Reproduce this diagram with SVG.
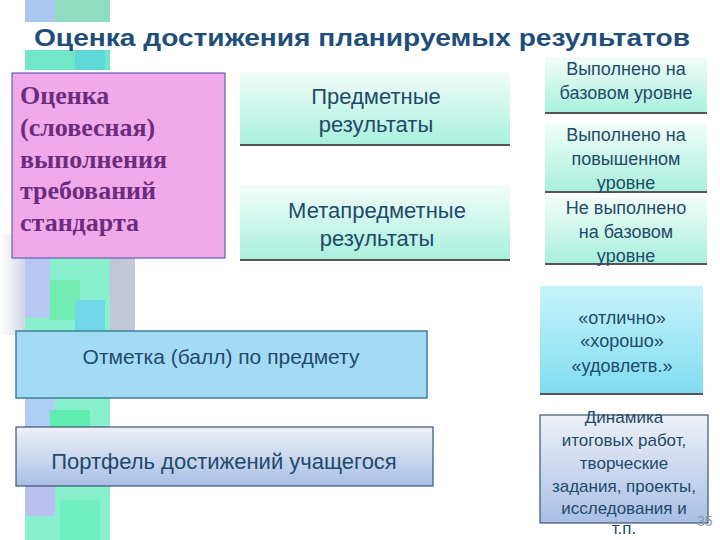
<svg xmlns="http://www.w3.org/2000/svg" width="720" height="540" viewBox="0 0 720 540">
<defs>
<linearGradient id="mint" x1="0" y1="0" x2="0" y2="1"><stop offset="0" stop-color="#f2fdf9"/><stop offset="1" stop-color="#a8f0dc"/></linearGradient>
<linearGradient id="cyan" x1="0" y1="0" x2="0" y2="1"><stop offset="0" stop-color="#c8f4fb"/><stop offset="1" stop-color="#7fdcf0"/></linearGradient>
<linearGradient id="grey" x1="0" y1="0" x2="0" y2="1"><stop offset="0" stop-color="#eef1f7"/><stop offset="1" stop-color="#a9bfe6"/></linearGradient>
<linearGradient id="band" x1="0" y1="0" x2="1" y2="0"><stop offset="0" stop-color="#ffffff"/><stop offset="0.3" stop-color="#b8bed4"/><stop offset="1" stop-color="#c4c8da"/></linearGradient>
<style>
.t{font-family:"Liberation Sans",Arial,sans-serif;fill:#1f4a6a;text-anchor:middle}
.s{font-family:"Liberation Serif","Times New Roman",serif;font-weight:bold;fill:#6b2c7e;font-size:26px}
.ln{stroke:#555;stroke-width:2}
</style>
</defs>
<rect width="720" height="540" fill="#fff"/>
<g id="background">
<rect x="0" y="235" width="135" height="100" fill="url(#band)"/>
<rect x="25" y="0" width="85" height="22" fill="#8fdcc0"/>
<rect x="25" y="0" width="30" height="22" fill="#a8c8f0"/>
<rect x="25" y="50" width="85" height="20" fill="#70e8c8"/>
<rect x="75" y="50" width="30" height="20" fill="#60d8d8"/>
<rect x="25" y="258" width="85" height="282" fill="#88f0cc"/>
<rect x="25" y="258" width="25" height="60" fill="#b8c8f4"/>
<rect x="50" y="280" width="30" height="40" fill="#70ecb0"/>
<rect x="75" y="300" width="30" height="30" fill="#70d8e8"/>
<rect x="25" y="398" width="30" height="30" fill="#b0cdf4"/>
<rect x="50" y="410" width="40" height="20" fill="#60ecb0"/>
<rect x="25" y="486" width="30" height="30" fill="#b8c0f0"/>
<rect x="60" y="500" width="40" height="40" fill="#70f0c0"/>
</g>
<text x="362" y="46" font-family="Liberation Sans,Arial,sans-serif" font-weight="bold" font-size="24" fill="#1f4e79" text-anchor="middle" textLength="656" lengthAdjust="spacingAndGlyphs">Оценка достижения планируемых результатов</text>
<g id="connectors"></g>
<g id="n-ocenka">
<rect x="12" y="73" width="213" height="185" fill="#f0aaea" stroke="#4a4aa0" stroke-width="1"/>
<text class="s" x="20" y="104">Оценка</text>
<text class="s" x="20" y="136">(словесная)</text>
<text class="s" x="20" y="168">выполнения</text>
<text class="s" x="20" y="199">требований</text>
<text class="s" x="20" y="231">стандарта</text>
</g>
<g id="n-predmet">
<rect x="240" y="72" width="270" height="73" fill="url(#mint)"/>
<line class="ln" x1="240" y1="145" x2="510" y2="145"/>
<text class="t" x="376" y="104" font-size="22">Предметные</text>
<text class="t" x="376" y="132" font-size="22">результаты</text>
</g>
<g id="n-meta">
<rect x="240" y="185" width="270" height="75" fill="url(#mint)"/>
<line class="ln" x1="240" y1="260" x2="510" y2="260"/>
<text class="t" x="377" y="218" font-size="22">Метапредметные</text>
<text class="t" x="377" y="246" font-size="22">результаты</text>
</g>
<g id="n-base">
<rect x="545" y="57" width="162" height="56" fill="url(#mint)"/>
<line class="ln" x1="545" y1="113" x2="707" y2="113"/>
<text class="t" x="626" y="75" font-size="18">Выполнено на</text>
<text class="t" x="626" y="99" font-size="18">базовом уровне</text>
</g>
<g id="n-high">
<rect x="545" y="123" width="162" height="69" fill="url(#mint)"/>
<line class="ln" x1="545" y1="192" x2="707" y2="192"/>
<text class="t" x="626" y="141" font-size="18">Выполнено на</text>
<text class="t" x="626" y="165" font-size="18">повышенном</text>
<text class="t" x="626" y="189" font-size="18">уровне</text>
</g>
<g id="n-not">
<rect x="545" y="197" width="162" height="67" fill="url(#mint)"/>
<line class="ln" x1="545" y1="264" x2="707" y2="264"/>
<text class="t" x="626" y="214" font-size="18">Не выполнено</text>
<text class="t" x="626" y="238" font-size="18">на базовом</text>
<text class="t" x="626" y="262" font-size="18">уровне</text>
</g>
<g id="n-otmetka">
<rect x="16" y="331" width="411" height="67" fill="#a3dbf5" stroke="#3f7f9f" stroke-width="1.5"/>
<text class="t" x="221" y="364" font-size="21">Отметка (балл) по предмету</text>
</g>
<g id="n-portfel">
<rect x="16" y="427" width="417" height="59" fill="url(#grey)" stroke="#3c5470" stroke-width="1.2"/>
<text class="t" x="224" y="469" font-size="22">Портфель достижений учащегося</text>
</g>
<g id="n-grades">
<rect x="540" y="286" width="163" height="108" fill="url(#cyan)"/>
<line class="ln" x1="540" y1="394" x2="703" y2="394"/>
<text class="t" x="622" y="324" font-size="18">«отлично»</text>
<text class="t" x="622" y="347" font-size="18">«хорошо»</text>
<text class="t" x="622" y="372" font-size="18">«удовлетв.»</text>
</g>
<g id="n-dynamics">
<rect x="540" y="415" width="168" height="108" fill="url(#grey)" stroke="#3c5470" stroke-width="1.2"/>
<text class="t" x="624" y="423" font-size="17">Динамика</text>
<text class="t" x="624" y="446" font-size="17">итоговых работ,</text>
<text class="t" x="624" y="469" font-size="17">творческие</text>
<text class="t" x="624" y="492" font-size="17">задания, проекты,</text>
<text class="t" x="624" y="514" font-size="17">исследования и</text>
<text class="t" x="624" y="534" font-size="17">т.п.</text>
</g>
<text x="697" y="526" font-family="Liberation Sans,Arial,sans-serif" font-size="14" fill="#8899aa">35</text>
</svg>
